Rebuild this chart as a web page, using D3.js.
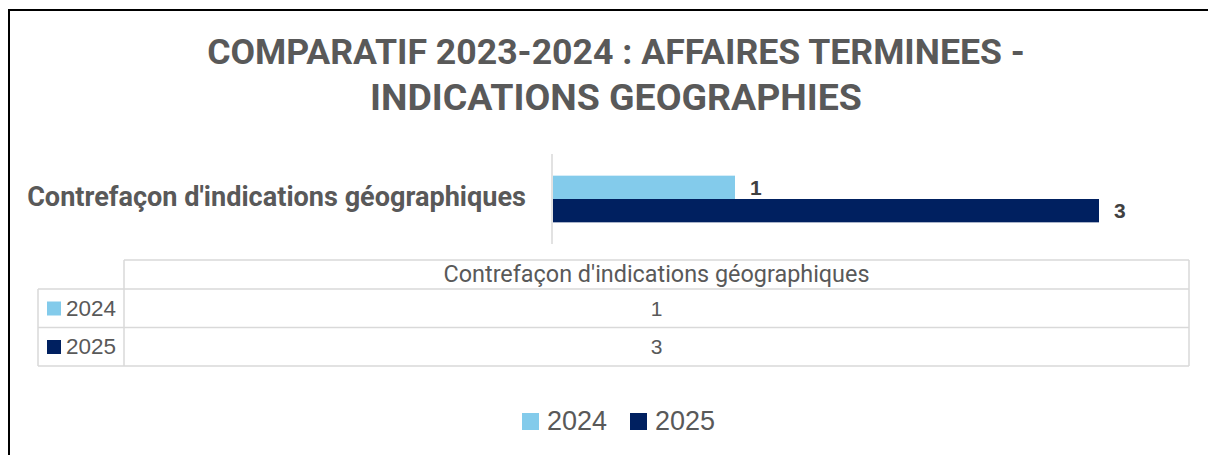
<!DOCTYPE html>
<html>
<head>
<meta charset="utf-8">
<script src="https://cdn.jsdelivr.net/npm/d3@7"></script>
<style>
  html, body { margin: 0; padding: 0; background: #ffffff; }
  svg { display: block; }
</style>
</head>
<body>
<svg id="chart" width="1208" height="455"></svg>
<script>
// ---- data ----
const titleLines = ["COMPARATIF 2023-2024 : AFFAIRES TERMINEES -", "INDICATIONS GEOGRAPHIES"];
const categories = ["Contrefaçon d'indications géographiques"];
const seriesNames = ["2024", "2025"];
const values2024 = [1];
const values2025 = [3];
const seriesValues = [values2024, values2025];
const seriesColors = ["#83cbeb", "#002060"];
const xDomainMax = 3.5;

// ---- setup ----
const svg = d3.select("#chart");
const textColor = "#595959";
const gridColor = "#d9d9d9";

svg.append("rect").attr("width", 1208).attr("height", 455).attr("fill", "#fff");

// border (top + left only visible)
svg.append("path")
  .attr("d", "M9,455 V10 H1208")
  .attr("fill", "none").attr("stroke", "#000").attr("stroke-width", 2);

// helper: fit text to target width
function fit(sel, target) {
  const node = sel.node();
  const w = node.getComputedTextLength();
  const fs = parseFloat(sel.attr("font-size"));
  sel.attr("font-size", (fs * target / w).toFixed(2));
}

// ---- title ----
const titleSpecs = [{y: 64, w: 818}, {y: 110, w: 492}];
titleLines.forEach((t, i) => {
  const s = svg.append("text")
    .attr("x", 616).attr("y", titleSpecs[i].y)
    .attr("text-anchor", "middle")
    .attr("font-family", "Roboto, 'Open Sans', sans-serif")
    .attr("font-weight", "bold")
    .attr("font-size", 32)
    .attr("fill", textColor)
    .text(t);
  fit(s, titleSpecs[i].w);
});

// ---- bar chart ----
const x = d3.scaleLinear().domain([0, xDomainMax]).range([553, 1190]);
const y0 = d3.scaleBand().domain(categories).range([154, 244]).padding(0.317);
const y1 = d3.scaleBand().domain(seriesNames).range([0, y0.bandwidth()]).padding(0);

// vertical axis line
svg.append("line")
  .attr("x1", 552).attr("x2", 552)
  .attr("y1", 154).attr("y2", 244)
  .attr("stroke", gridColor).attr("stroke-width", 1.5);

// category axis
const yAxis = d3.axisLeft(y0).tickSize(0).tickPadding(0);
const yAxisG = svg.append("g").attr("transform", "translate(526,0)").call(yAxis);
yAxisG.select(".domain").remove();
yAxisG.selectAll("text")
  .attr("font-family", "Roboto, 'Open Sans', sans-serif")
  .attr("font-weight", "bold")
  .attr("font-size", 22)
  .attr("fill", textColor)
  .attr("dy", null)
  .attr("y", 7)
  .each(function() { fit(d3.select(this), 499); });

const gCat = svg.selectAll("g.cat").data(categories).enter().append("g")
  .attr("class", "cat")
  .attr("transform", d => `translate(0,${y0(d)})`);

seriesNames.forEach((s, si) => {
  gCat.append("rect")
    .attr("x", x(0))
    .attr("y", y1(s))
    .attr("width", (d, ci) => x(seriesValues[si][ci]) - x(0))
    .attr("height", y1.bandwidth())
    .attr("fill", seriesColors[si]);
  gCat.append("text")
    .attr("x", (d, ci) => x(seriesValues[si][ci]) + 15)
    .attr("y", y1(s) + y1.bandwidth() / 2 + 7.5)
    .attr("font-family", "'Liberation Sans', Arial, sans-serif")
    .attr("font-weight", "bold")
    .attr("font-size", 21)
    .attr("fill", "#404040")
    .text((d, ci) => seriesValues[si][ci]);
});

// ---- data table ----
const tLeft = 38, tDiv = 124, tRight = 1189;
const rowY = [260, 289, 327.5, 366];
const tg = svg.append("g").attr("stroke", gridColor).attr("stroke-width", 1.5).attr("fill", "none");
// header row (only over value column)
tg.append("line").attr("x1", tDiv).attr("x2", tRight).attr("y1", rowY[0]).attr("y2", rowY[0]);
tg.append("line").attr("x1", tDiv).attr("x2", tDiv).attr("y1", rowY[0]).attr("y2", rowY[3]);
tg.append("line").attr("x1", tRight).attr("x2", tRight).attr("y1", rowY[0]).attr("y2", rowY[3]);
tg.append("line").attr("x1", tLeft).attr("x2", tLeft).attr("y1", rowY[1]).attr("y2", rowY[3]);
[1, 2, 3].forEach(i => {
  tg.append("line").attr("x1", tLeft).attr("x2", tRight).attr("y1", rowY[i]).attr("y2", rowY[i]);
});

const colCenter = (tDiv + tRight) / 2;
const hdr = svg.append("text")
  .attr("x", colCenter).attr("y", 282)
  .attr("text-anchor", "middle")
  .attr("font-family", "Roboto, 'Open Sans', sans-serif")
  .attr("font-size", 19)
  .attr("fill", textColor)
  .text(categories[0]);
fit(hdr, 426);

seriesNames.forEach((s, si) => {
  const base = [315.5, 354][si];
  svg.append("rect")
    .attr("x", 47).attr("y", base - 14)
    .attr("width", 14).attr("height", 14)
    .attr("fill", seriesColors[si]);
  const lbl = svg.append("text")
    .attr("x", 66).attr("y", base)
    .attr("font-family", "'Liberation Sans', Arial, sans-serif")
    .attr("font-size", 22)
    .attr("fill", textColor)
    .text(s);
  fit(lbl, 50);
  categories.forEach((c, ci) => {
    svg.append("text")
      .attr("x", colCenter).attr("y", base)
      .attr("text-anchor", "middle")
      .attr("font-family", "'Liberation Sans', Arial, sans-serif")
      .attr("font-size", 21)
      .attr("fill", textColor)
      .text(seriesValues[si][ci]);
  });
});

// ---- legend ----
const legX = [522, 630];
seriesNames.forEach((s, si) => {
  svg.append("rect")
    .attr("x", legX[si]).attr("y", 413)
    .attr("width", 17).attr("height", 17)
    .attr("fill", seriesColors[si]);
  svg.append("text")
    .attr("x", legX[si] + 25).attr("y", 430)
    .attr("font-family", "'Liberation Sans', Arial, sans-serif")
    .attr("font-size", 27)
    .attr("fill", textColor)
    .text(s);
});
</script>
</body>
</html>
